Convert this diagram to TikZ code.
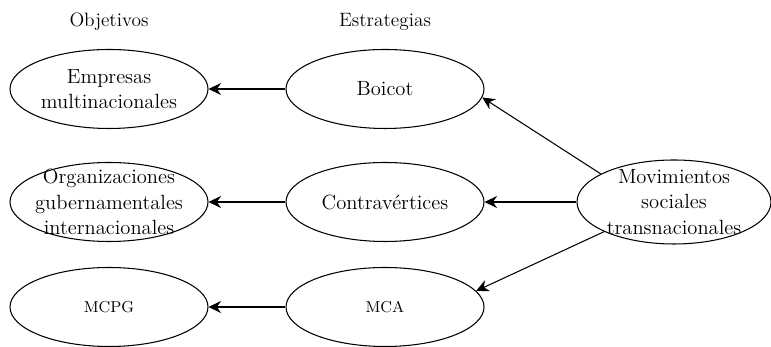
\documentclass[tikz,border=0pt]{standalone}
\usepackage{tikz}
\usetikzlibrary{arrows.meta,shapes.geometric}

\begin{document}
\begin{tikzpicture}[node distance = 5.52cm,
  >={Stealth[length=2.5mm,width=2.4mm]}, line width=0.6pt,
  elip/.style={ellipse, draw, inner sep=-2mm, minimum width=3.96cm,
    minimum height=1.58cm, align=center, font=\fontsize{11.7}{14.3}\selectfont}]
\useasboundingbox (0,0) rectangle (15.42,6.94);
\node[elip] (emp) at (2.18,5.16) {Empresas\\multinacionales};
\node[elip] (org) [below of = emp, node distance = 2.26cm] {Organizaciones\\gubernamentales\\internacionales};
\node[elip] (mcpg) [below of = org, node distance = 2.1cm] {\small MCPG};
\node[elip] (boi) [right of = emp] {Boicot};
\node[elip] (con) [right of = org] {Contravértices};
\node[elip] (mca) [right of = mcpg] {\small MCA};
\node[elip, minimum width=3.88cm, minimum height=1.68cm] (mov) [right of = con, node distance = 5.78cm] {Movimientos\\sociales\\transnacionales};

\node[font=\fontsize{11}{14}\selectfont] (hobj) [above of = emp, node distance = 1.34cm] {Objetivos};
\node[font=\fontsize{11}{14}\selectfont] (hest) [above of = boi, node distance = 1.34cm] {Estrategias};

\path[->] (boi) edge (emp)
          (con) edge (org)
          (mca) edge (mcpg)
          (mov.159) edge (boi.-5)
          (mov) edge (con)
          (mov.203) edge (mca.10);
\end{tikzpicture}
\end{document}
